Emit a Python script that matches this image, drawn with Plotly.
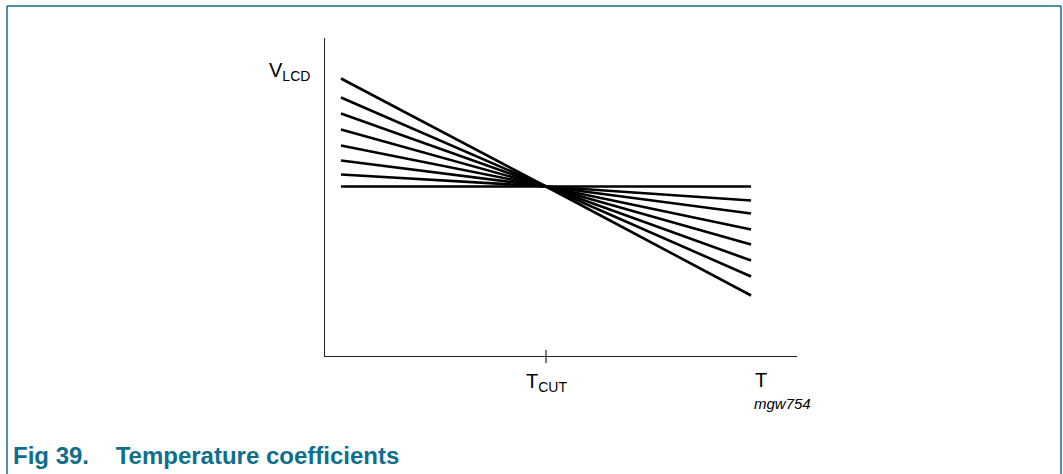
import plotly.graph_objects as go

# temperature positions: start, T_CUT, end (relative units)
t_points = [-1.0, 0.0, 1.0]
# V_LCD offset at start and end of each line (relative to value at T_CUT)
v_start = [108, 89, 73, 57, 41, 26, 12, 0]
v_end = [-109, -90, -74, -58, -43, -27, -14, 0]

W, H = 1063, 474
L, R, T, B = 325, 797, 38, 356
TEAL = "#0f6e8a"
FONT = "Liberation Sans, Arial, sans-serif"


def px(x):
    return (x - L) / (R - L)


def py(y):
    return (B - y) / (B - T)


fig = go.Figure()
for a, b in zip(v_start, v_end):
    fig.add_trace(go.Scatter(
        x=t_points, y=[a, 0, b], mode="lines",
        line=dict(color="black", width=2.6), hoverinfo="skip",
        showlegend=False, cliponaxis=False,
    ))

fig.update_layout(
    width=W, height=H,
    margin=dict(l=L, r=W - R, t=T, b=H - B),
    paper_bgcolor="white", plot_bgcolor="white",
    xaxis=dict(range=[-1.078, 1.224], showgrid=False, zeroline=False,
               showticklabels=False, ticks="", showline=True,
               linecolor="#222", linewidth=1.2),
    yaxis=dict(range=[-169.5, 148.5], showgrid=False, zeroline=False,
               showticklabels=False, ticks="", showline=True,
               linecolor="#222", linewidth=1.2),
    font=dict(family=FONT, color="black"),
)

shapes = [
    # tick at T_CUT crossing the axis
    dict(type="line", xref="x", yref="paper", x0=0, x1=0,
         y0=py(350), y1=py(363), line=dict(color="#222", width=1.2)),
    # outer frame
    dict(type="line", xref="paper", yref="paper", x0=px(7), x1=px(1061),
         y0=py(6), y1=py(6), line=dict(color=TEAL, width=1.5)),
    dict(type="line", xref="paper", yref="paper", x0=px(7), x1=px(7),
         y0=py(6), y1=py(480), line=dict(color=TEAL, width=1.5)),
    dict(type="line", xref="paper", yref="paper", x0=px(1061), x1=px(1061),
         y0=py(6), y1=py(480), line=dict(color=TEAL, width=1.5)),
]
fig.update_layout(shapes=shapes)

ann = [
    ("V<sub>LCD</sub>", 289, 71, 20),
    ("T<sub>CUT</sub>", 546, 382, 20),
    ("T", 761, 380, 20),
    ("<i>mgw754</i>", 782, 403, 15),
]
for text, x, y, size in ann:
    fig.add_annotation(text=text, xref="paper", yref="paper",
                       x=px(x), y=py(y), xanchor="center", yanchor="middle",
                       showarrow=False, font=dict(size=size, color="black"))

fig.add_annotation(
    text="<b>Fig 39.&nbsp;&nbsp;&nbsp;&nbsp;Temperature coefficients</b>",
    xref="paper", yref="paper", x=px(11), y=py(455),
    xanchor="left", yanchor="middle", showarrow=False,
    font=dict(size=24, color=TEAL),
)

fig.write_html("out.html", config={"displayModeBar": False},
               post_script="document.body.style.margin='0';")
